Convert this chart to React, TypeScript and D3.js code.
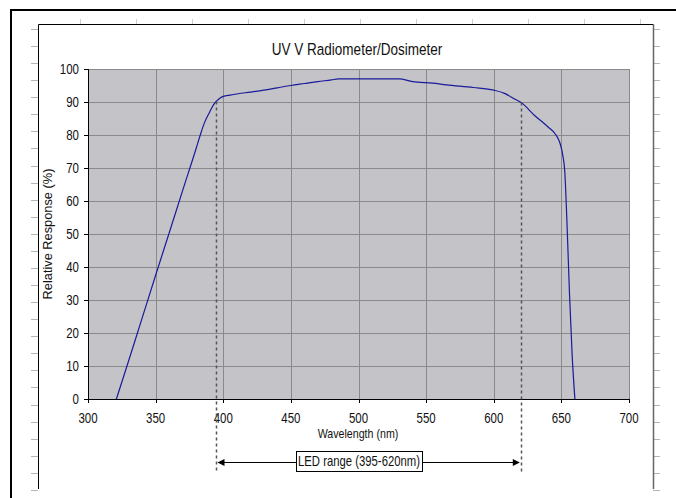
import React from "react";
import * as d3 from "d3";

const wavelengths = [321, 330, 340, 350, 360, 370, 380, 383, 386, 390, 393, 397, 400, 405, 411, 420, 430, 440, 450, 460, 470, 480, 485, 530, 540, 555, 565, 585, 600, 608, 615, 621, 630, 640, 646, 649, 651, 652.5, 654, 656, 658, 660];
const response = [0, 11.5, 24.5, 37.5, 50.3, 63.2, 76, 80, 83.6, 87, 89.3, 91, 91.7, 92.1, 92.5, 93, 93.6, 94.3, 95, 95.6, 96.2, 96.7, 97, 97, 96.2, 95.7, 95.2, 94.4, 93.6, 92.6, 91, 89.6, 86, 82.5, 80, 77.5, 74, 69, 55, 32, 13, 0];
const xTicks = [300, 350, 400, 450, 500, 550, 600, 650, 700];
const yTicks = [0, 10, 20, 30, 40, 50, 60, 70, 80, 90, 100];
const ledRange = [395, 620];
const title = "UV V Radiometer/Dosimeter";
const xLabel = "Wavelength (nm)";
const yLabel = "Relative Response (%)";
const ledLabel = "LED range (395-620nm)";

const FONT = "'Liberation Sans', Arial, sans-serif";
const SX = 0.82;

function NText(props: { x: number; y: number; size: number; anchor?: string; children: React.ReactNode }) {
  return (
    <g transform={`translate(${props.x},${props.y}) scale(${SX},1)`}>
      <text x={0} y={0} dy="0.36em" textAnchor={props.anchor || "middle"} fontSize={props.size} fill="#111">
        {props.children}
      </text>
    </g>
  );
}

function valueAt(w: number) {
  const i = d3.bisectRight(wavelengths, w);
  if (i <= 0) return response[0];
  if (i >= wavelengths.length) return response[response.length - 1];
  const t = (w - wavelengths[i - 1]) / (wavelengths[i] - wavelengths[i - 1]);
  return response[i - 1] + t * (response[i] - response[i - 1]);
}

export default function App() {
  const W = 676, H = 498;
  const x = d3.scaleLinear().domain([300, 700]).range([88, 629]);
  const y = d3.scaleLinear().domain([0, 100]).range([399, 69]);
  const line = d3
    .line<number>()
    .x((d, i) => x(wavelengths[i]))
    .y((d) => y(d))
    .curve(d3.curveMonotoneX);

  const topTicks = d3.range(11).map((k) => 80 + 56 * k);
  const sideTicks = d3.range(28).map((k) => 29 + 17.07 * k);
  const arrowY = 462;
  const boxL = 296, boxR = 422;
  const xl = x(ledRange[0]), xr = x(ledRange[1]);

  return (
    <svg width={W} height={H} style={{ position: "absolute", left: 0, top: 0, background: "#fff" }} fontFamily={FONT}>
      <rect x={0} y={0} width={W} height={H} fill="#fff" />
      {/* outer black frame */}
      <line x1={10} y1={10} x2={676} y2={10} stroke="#000" strokeWidth={2} />
      <line x1={11} y1={10} x2={11} y2={498} stroke="#000" strokeWidth={2} />
      {/* page ticks */}
      {topTicks.map((t) => (
        <line key={"tt" + t} x1={t + 0.5} y1={19} x2={t + 0.5} y2={24} stroke="#d0d0d0" strokeWidth={1} />
      ))}
      {sideTicks.map((t, i) => (
        <g key={"st" + i}>
          <line x1={31} y1={Math.round(t) + 0.5} x2={38} y2={Math.round(t) + 0.5} stroke="#b4b4b4" strokeWidth={1} />
          <line x1={653} y1={Math.round(t) + 0.5} x2={660} y2={Math.round(t) + 0.5} stroke="#b4b4b4" strokeWidth={1} />
        </g>
      ))}
      {/* inner chart border */}
      <line x1={38.5} y1={24.5} x2={653.5} y2={24.5} stroke="#000" strokeWidth={1} />
      <line x1={38.5} y1={24.5} x2={38.5} y2={489} stroke="#000" strokeWidth={1} />
      <line x1={653.5} y1={24.5} x2={653.5} y2={489} stroke="#666" strokeWidth={1.5} />

      {/* title */}
      <NText x={357} y={49} size={16.5}>{title}</NText>

      {/* plot area */}
      <rect x={x(300)} y={y(100)} width={x(700) - x(300)} height={y(0) - y(100)} fill="#c4c3c8" />
      {yTicks.map((t) => (
        <line key={"gy" + t} x1={x(300)} x2={x(700)} y1={Math.round(y(t)) + 0.5} y2={Math.round(y(t)) + 0.5} stroke="#8a8a8a" strokeWidth={1} />
      ))}
      {xTicks.map((t) => (
        <line key={"gx" + t} x1={Math.round(x(t)) + 0.5} x2={Math.round(x(t)) + 0.5} y1={y(100)} y2={y(0)} stroke="#8a8a8a" strokeWidth={1} />
      ))}

      {/* axes */}
      <line x1={Math.round(x(300)) + 0.5} x2={Math.round(x(300)) + 0.5} y1={y(100)} y2={y(0)} stroke="#000" strokeWidth={1} />
      <line x1={x(300)} x2={x(700)} y1={Math.round(y(0)) + 0.5} y2={Math.round(y(0)) + 0.5} stroke="#000" strokeWidth={1} />
      {yTicks.map((t) => (
        <g key={"yt" + t}>
          <line x1={x(300) - 4} x2={x(300)} y1={Math.round(y(t)) + 0.5} y2={Math.round(y(t)) + 0.5} stroke="#000" />
          <NText x={79} y={y(t)} size={14} anchor="end">{t}</NText>
        </g>
      ))}
      {xTicks.map((t) => (
        <g key={"xt" + t}>
          <line x1={Math.round(x(t)) + 0.5} x2={Math.round(x(t)) + 0.5} y1={y(0)} y2={y(0) + 4} stroke="#000" />
          <NText x={x(t)} y={418} size={14}>{t}</NText>
        </g>
      ))}

      {/* axis labels */}
      <NText x={358} y={433} size={13}>{xLabel}</NText>
      <text transform={`translate(47,${(y(0) + y(100)) / 2}) rotate(-90)`} dy="0.36em" textAnchor="middle" fontSize={12.8} fill="#111">{yLabel}</text>

      {/* curve */}
      <path d={line(response) || ""} fill="none" stroke="#1a1a9a" strokeWidth={1.2} />

      {/* LED range dashed lines */}
      {ledRange.map((w) => (
        <line key={"led" + w} x1={Math.round(x(w)) + 0.5} x2={Math.round(x(w)) + 0.5} y1={y(valueAt(w))} y2={473} stroke="#555" strokeWidth={1.5} strokeDasharray="3,3" />
      ))}

      {/* arrows */}
      <line x1={xl + 2} x2={boxL} y1={arrowY + 0.5} y2={arrowY + 0.5} stroke="#000" strokeWidth={1} />
      <line x1={boxR} x2={xr - 2} y1={arrowY + 0.5} y2={arrowY + 0.5} stroke="#000" strokeWidth={1} />
      <path d={`M${xl + 1},${arrowY + 0.5} L${xl + 8},${arrowY - 3} L${xl + 8},${arrowY + 4} Z`} fill="#000" />
      <path d={`M${xr - 1},${arrowY + 0.5} L${xr - 8},${arrowY - 3} L${xr - 8},${arrowY + 4} Z`} fill="#000" />
      <rect x={boxL + 0.5} y={451.5} width={boxR - boxL} height={20} fill="#fff" stroke="#000" strokeWidth={1} />
      <NText x={(boxL + boxR) / 2} y={461.5} size={13.8}>{ledLabel}</NText>
    </svg>
  );
}
